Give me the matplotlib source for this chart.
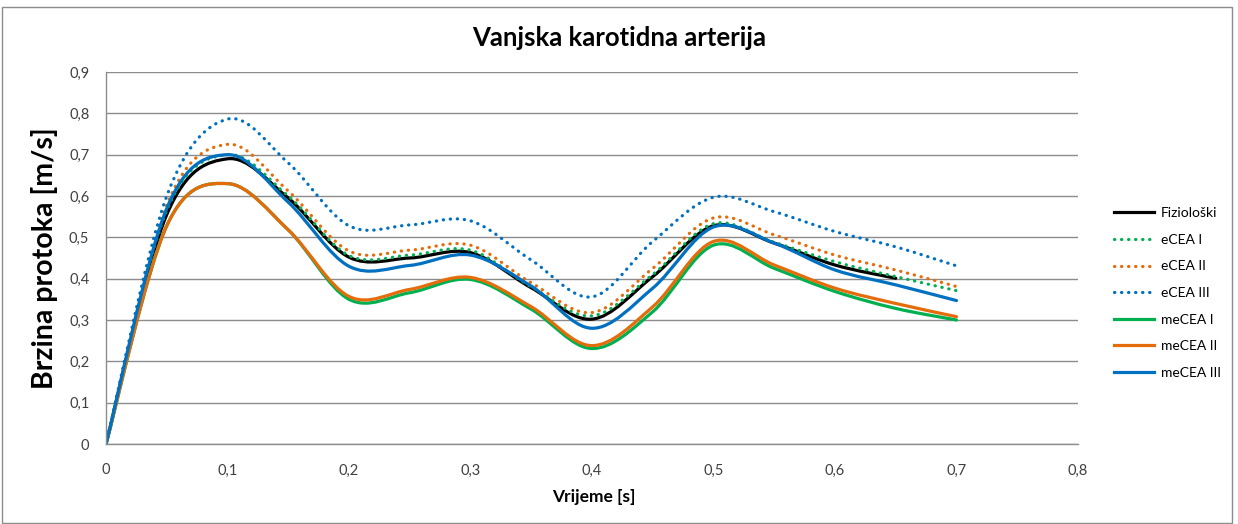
import matplotlib
matplotlib.use("Agg")
import matplotlib.pyplot as plt
from matplotlib.path import Path
from matplotlib.patches import PathPatch, Rectangle
from matplotlib.lines import Line2D
from matplotlib.ticker import FuncFormatter, MultipleLocator

plt.rcParams['font.family'] = ['Lato', 'DejaVu Sans']

# time points [s]
time = [0.0, 0.05, 0.1, 0.15, 0.2, 0.25, 0.3, 0.35, 0.4, 0.45, 0.5, 0.55, 0.6, 0.65, 0.7]

# flow velocity [m/s]
fizioloski = [0, 0.555, 0.69, 0.595, 0.452, 0.45, 0.463, 0.378, 0.302, 0.405, 0.528, 0.486, 0.433, 0.401]
ecea_1 = [0, 0.565, 0.70, 0.60, 0.456, 0.457, 0.469, 0.38, 0.31, 0.41, 0.533, 0.488, 0.441, 0.405, 0.371]
ecea_2 = [0, 0.578, 0.725, 0.612, 0.467, 0.469, 0.481, 0.39, 0.318, 0.425, 0.547, 0.506, 0.457, 0.421, 0.381]
ecea_3 = [0, 0.6, 0.786, 0.68, 0.528, 0.53, 0.54, 0.445, 0.356, 0.49, 0.597, 0.562, 0.514, 0.477, 0.431]
mecea_1 = [0, 0.528, 0.63, 0.518, 0.35, 0.366, 0.398, 0.326, 0.231, 0.32, 0.481, 0.425, 0.369, 0.328, 0.300]
mecea_2 = [0, 0.528, 0.63, 0.518, 0.357, 0.374, 0.403, 0.332, 0.238, 0.332, 0.49, 0.433, 0.377, 0.34, 0.308]
mecea_3 = [0, 0.57, 0.70, 0.585, 0.43, 0.432, 0.457, 0.382, 0.28, 0.377, 0.525, 0.486, 0.421, 0.385, 0.347]

labels = ['Fiziološki', 'eCEA I', 'eCEA II', 'eCEA III', 'meCEA I', 'meCEA II', 'meCEA III']
series = [fizioloski, ecea_1, ecea_2, ecea_3, mecea_1, mecea_2, mecea_3]
colors = ['black', '#00B050', '#E46C0A', '#0070C0', '#00B050', '#E46C0A', '#0070C0']
dotted = (0, (0.1, 2.1))
styles = ['-', dotted, dotted, dotted, '-', '-', '-']
LW = 2.3


def smooth_path(xs, ys):
    """Excel-like smoothed line: cubic Bezier segments through the points."""
    pts = list(zip(xs, ys))
    verts = [pts[0]]
    codes = [Path.MOVETO]
    n = len(pts)
    for i in range(n - 1):
        p0 = pts[i - 1] if i > 0 else pts[i]
        p1 = pts[i]
        p2 = pts[i + 1]
        p3 = pts[i + 2] if i + 2 < n else pts[i + 1]
        c1 = (p1[0] + (p2[0] - p0[0]) / 6, p1[1] + (p2[1] - p0[1]) / 6)
        c2 = (p2[0] - (p3[0] - p1[0]) / 6, p2[1] - (p3[1] - p1[1]) / 6)
        verts += [c1, c2, p2]
        codes += [Path.CURVE4] * 3
    return Path(verts, codes)


fig = plt.figure(figsize=(12.38, 5.24), dpi=100)
ax = fig.add_axes([106 / 1238, 80 / 524, 972 / 1238, 372 / 524])

for vals, col, ls in zip(series, colors, styles):
    patch = PathPatch(smooth_path(time[:len(vals)], vals), fill=False,
                      edgecolor=col, linestyle=ls, linewidth=LW,
                      capstyle='round', joinstyle='round')
    ax.add_patch(patch)

ax.set_xlim(0, 0.8)
ax.set_ylim(0, 0.9)
ax.xaxis.set_major_locator(MultipleLocator(0.1))
ax.yaxis.set_major_locator(MultipleLocator(0.1))
fmt = FuncFormatter(lambda v, p: '0' if abs(v) < 1e-9 else f'{v:.1f}'.replace('.', ','))
ax.xaxis.set_major_formatter(fmt)
ax.yaxis.set_major_formatter(fmt)
ax.tick_params(length=0, labelsize=10.5, colors='#404040')
ax.tick_params(axis='x', pad=14)
ax.tick_params(axis='y', pad=12)
ax.grid(axis='y', color='#8c8c8c', linewidth=1)
ax.set_axisbelow(True)
for s in ['top', 'right']:
    ax.spines[s].set_visible(False)
for s in ['left', 'bottom']:
    ax.spines[s].set_color('#8c8c8c')
    ax.spines[s].set_linewidth(1)

ax.set_xlabel('Vrijeme [s]', fontsize=12.5, fontweight='bold', va='center')
ax.xaxis.set_label_coords(488 / 972, -53 / 372)
ax.set_ylabel('Brzina protoka [m/s]', fontsize=20.5, fontweight='bold', va='center')
ax.yaxis.set_label_coords(-61 / 972, 0.5)
fig.text(619 / 1238, 1 - 38 / 524, 'Vanjska karotidna arterija', ha='center', va='center',
         fontsize=18.5, fontweight='bold')

handles = [Line2D([], [], color=c, linestyle=ls, linewidth=LW, dash_capstyle='round')
           for c, ls in zip(colors, styles)]
leg = fig.legend(handles, labels, loc='center left', bbox_to_anchor=(1101 / 1238, 1 - 293 / 524),
                 frameon=False, fontsize=10, handlelength=2.9, handletextpad=0.5,
                 labelspacing=1.05)

fig.patches.append(Rectangle((2 / 1238, 1 / 524), 1230 / 1238, 516 / 524, transform=fig.transFigure,
                             fill=False, edgecolor='#8c8c8c', linewidth=1))

fig.savefig('out.png', dpi=100)
